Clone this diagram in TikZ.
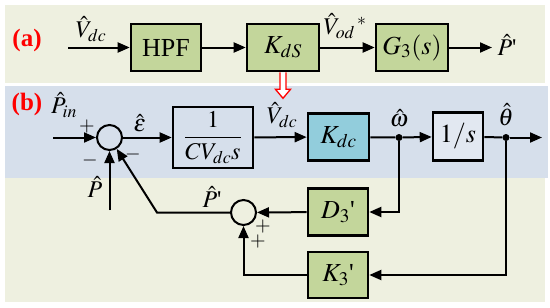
\documentclass[tikz,border=0pt]{standalone}
\usepackage{amsmath}
\usepackage{mathptmx}
\usepackage{fontspec}
\setmainfont{Liberation Serif}
\usetikzlibrary{arrows.meta}

\definecolor{bgbeige}{HTML}{EEF0E0}
\definecolor{bgblue}{HTML}{D6DFEB}
\definecolor{blockgreen}{HTML}{C3D69B}
\definecolor{blockcyan}{HTML}{92CDDC}
\definecolor{blockpale}{HTML}{E2E8F1}

\tikzset{
    block/.style={draw, line width=2.6pt, inner sep=0pt, font=\fontsize{26}{30}\selectfont},
    sumj/.style={draw, circle, line width=2pt, minimum size=25pt, inner sep=0pt},
    tap/.style={circle, fill, minimum size=7pt, inner sep=0pt},
    sig/.style={line width=2pt, -{Triangle[length=12pt,width=10pt]}},
    wire/.style={line width=2pt},
    lbl/.style={inner sep=0pt, font=\fontsize{24}{28}\selectfont},
    sgn/.style={inner sep=0pt, font=\fontsize{20}{22}\selectfont},
    tag/.style={inner sep=0pt, text=red, font=\fontsize{25}{29}\selectfont\bfseries},
}

\begin{document}
\begin{tikzpicture}[x=1pt, y=-1pt]
        \useasboundingbox (0,0) rectangle (550,308);
        \fill[bgbeige] (5,5) rectangle (545,83);
        \fill[bgblue] (5,86) rectangle (548,178);
        \fill[bgbeige] (5,178) rectangle (545,302);

        \node[tag] (taga) at (27,40) {(a)};
        \node[tag] (tagb) at (27,104) {(b)};

        \node[block, fill=blockgreen, minimum width=70pt, minimum height=47pt] (hpf) at (166,47.5) {HPF};
        \node[block, fill=blockgreen, minimum width=72pt, minimum height=47pt] (kds) at (283,47.5) {$K_{dS}$};
        \node[block, fill=blockgreen, minimum width=72pt, minimum height=47pt] (gthree) at (412,47.5) {$G_3(s)$};
        \coordinate (vin) at (68,47.5);
        \coordinate (pout) at (492,47.5);

        \draw[sig] (vin) -- (hpf);
        \draw[sig] (hpf) -- (kds);
        \draw[sig] (kds) -- (gthree);
        \draw[sig] (gthree) -- (pout);

        \node[lbl] (lvdca) at (91,29) {$\hat{V}_{dc}$};
        \node[lbl] (lvod) at (345,26) {$\hat{V}_{od}{}^{\,*}$};
        \node[lbl] (lpa) at (507,45) {$\hat{P}$\textquotesingle};

        \draw[red, line width=1.3pt, fill=white, shift={(kds.south)}]
            (-3,0) -- (-3,17) -- (-7.5,17) -- (0,26) -- (7.5,17) -- (3,17) -- (3,0);

        \node[sumj] (sumone) at (109.5,137.5) {};
        \node[block, minimum width=80pt, minimum height=61pt, font=\fontsize{24}{28}\selectfont] (plant) at (213,137.5) {$\dfrac{1}{CV_{dc}s}$};
        \node[block, fill=blockcyan, minimum width=61pt, minimum height=47pt] (kdc) at (338.5,137) {$K_{dc}$};
        \node[block, fill=blockpale, minimum width=50pt, minimum height=48pt] (integ) at (458,136.5) {$1/s$};
        \node[tap] (wdot) at (399,137.5) {};
        \node[tap] (thdot) at (506,137.5) {};
        \coordinate (pin) at (53,137.5);
        \coordinate (thout) at (542,137.5);

        \node[sumj] (sumtwo) at (243.5,212.5) {};
        \node[block, fill=blockgreen, minimum width=60pt, minimum height=47pt] (dthree) at (338,212) {$D_3$\textquotesingle};
        \node[block, fill=blockgreen, minimum width=60pt, minimum height=46pt] (kthree) at (338,275) {$K_3$\textquotesingle};
        \coordinate (bend) at (157,212.5);
        \coordinate (pfb) at (109.5,210);

        \draw[sig] (pin) -- (sumone);
        \draw[sig] (sumone) -- (plant);
        \draw[sig] (plant) -- (kdc);
        \draw[wire] (kdc) -- (wdot);
        \draw[sig] (wdot) -- (integ);
        \draw[wire] (integ) -- (thdot);
        \draw[sig] (thdot) -- (thout);

        \draw[sig] (wdot) |- (dthree.east);
        \draw[sig] (dthree) -- (sumtwo);
        \draw[sig] (thdot) |- (kthree.east);
        \draw[sig] (kthree.west) -| (sumtwo.south);
        \draw[sig] (sumtwo.west) -- (bend) -- (sumone);
        \draw[sig] (pfb) -- (sumone.south);

        \node[lbl] (lpin) at (64,105) {$\hat{P}_{in}$};
        \node[lbl] (leps) at (140,123) {$\hat{\varepsilon}$};
        \node[lbl] (lvdcb) at (282,115) {$\hat{V}_{dc}$};
        \node[lbl] (lw) at (399,118) {$\hat{\omega}$};
        \node[lbl] (lth) at (506,115) {$\hat{\theta}$};
        \node[lbl] (lp) at (95,187) {$\hat{P}$};
        \node[lbl] (lpb) at (212,197) {$\hat{P}$\textquotesingle};

        \node[sgn] (pone) at (87,127) {$+$};
        \node[sgn] (mone) at (90,160) {$-$};
        \node[sgn] (mtwo) at (133,154) {$-$};
        \node[sgn] (ptwo) at (263,227) {$+$};
        \node[sgn] (pthree) at (258,242) {$+$};
\end{tikzpicture}
\end{document}
